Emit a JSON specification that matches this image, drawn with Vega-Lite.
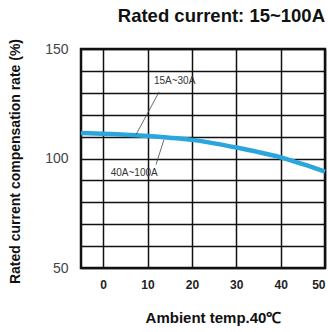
{
  "$schema": "https://vega.github.io/schema/vega-lite/v6.json",
  "width": 244,
  "height": 219,
  "autosize": "none",
  "padding": {"left": 81, "top": 49, "right": 3, "bottom": 64},
  "background": "white",
  "title": {"text": "Rated current:  15~100A", "anchor": "end", "frame": "group", "font": "Liberation Sans", "fontSize": 18.5, "fontWeight": "bold", "color": "#111", "offset": 13},
  "config": {
    "view": {"stroke": "#111", "strokeWidth": 2.5},
    "axis": {"labelFont": "Liberation Sans", "titleFont": "Liberation Sans", "domain": false, "ticks": false, "gridColor": "#111", "gridWidth": 1.5, "gridOpacity": 1}
  },
  "datasets": {
    "curve": [
      {"temp": -5, "rate": 111.6},
      {"temp": 0, "rate": 111.3},
      {"temp": 5, "rate": 110.9},
      {"temp": 10, "rate": 110.3},
      {"temp": 15, "rate": 109.5},
      {"temp": 20, "rate": 108.5},
      {"temp": 25, "rate": 106.9},
      {"temp": 30, "rate": 105.0},
      {"temp": 35, "rate": 102.9},
      {"temp": 40, "rate": 100.5},
      {"temp": 45, "rate": 97.4},
      {"temp": 50, "rate": 94.0}
    ],
    "leaders": [
      {"x1": 12.6, "y1": 130.4, "x2": 7.4, "y2": 110.9},
      {"x1": 11.9, "y1": 97.2, "x2": 13.7, "y2": 108.6}
    ],
    "labels": [
      {"x": 16.1, "y": 135.2, "text": "15A~30A"},
      {"x": 7.0, "y": 93.4, "text": "40A~100A"}
    ]
  },
  "layer": [
    {
      "data": {"name": "curve"},
      "mark": {"type": "line", "color": "#2ba6dc", "strokeWidth": 4.5, "interpolate": "monotone"},
      "encoding": {
        "x": {"field": "temp", "type": "quantitative", "scale": {"domain": [-5, 50], "nice": false},
          "axis": {"values": [0, 10, 20, 30, 40, 50], "labelFontSize": 12, "labelFontWeight": "bold", "labelColor": "#222", "labelPadding": 11,
            "title": "Ambient temp.40℃", "titleFontSize": 15, "titleFontWeight": "bold", "titleColor": "#111", "titleX": 132, "titleY": 49, "titleAnchor": "middle", "titleBaseline": "middle"}},
        "y": {"field": "rate", "type": "quantitative", "scale": {"domain": [50, 150], "nice": false},
          "axis": {"tickCount": 10, "labelExpr": "datum.value % 50 === 0 ? datum.label : ''", "labelFontSize": 14, "labelColor": "#444", "labelPadding": 13,
            "title": "Rated current compensation rate (%)", "titleFontSize": 14, "titleFontWeight": "bold", "titleColor": "#111", "titleX": -66, "titleY": 112, "titleAnchor": "middle", "titleBaseline": "middle"}}
      }
    },
    {
      "data": {"name": "leaders"},
      "mark": {"type": "rule", "color": "#444", "strokeWidth": 0.8},
      "encoding": {
        "x": {"field": "x1", "type": "quantitative"},
        "y": {"field": "y1", "type": "quantitative"},
        "x2": {"field": "x2"},
        "y2": {"field": "y2"}
      }
    },
    {
      "data": {"name": "labels"},
      "mark": {"type": "text", "font": "Liberation Sans", "fontSize": 10, "color": "#333", "align": "center", "baseline": "middle"},
      "encoding": {
        "x": {"field": "x", "type": "quantitative"},
        "y": {"field": "y", "type": "quantitative"},
        "text": {"field": "text"}
      }
    }
  ]
}
